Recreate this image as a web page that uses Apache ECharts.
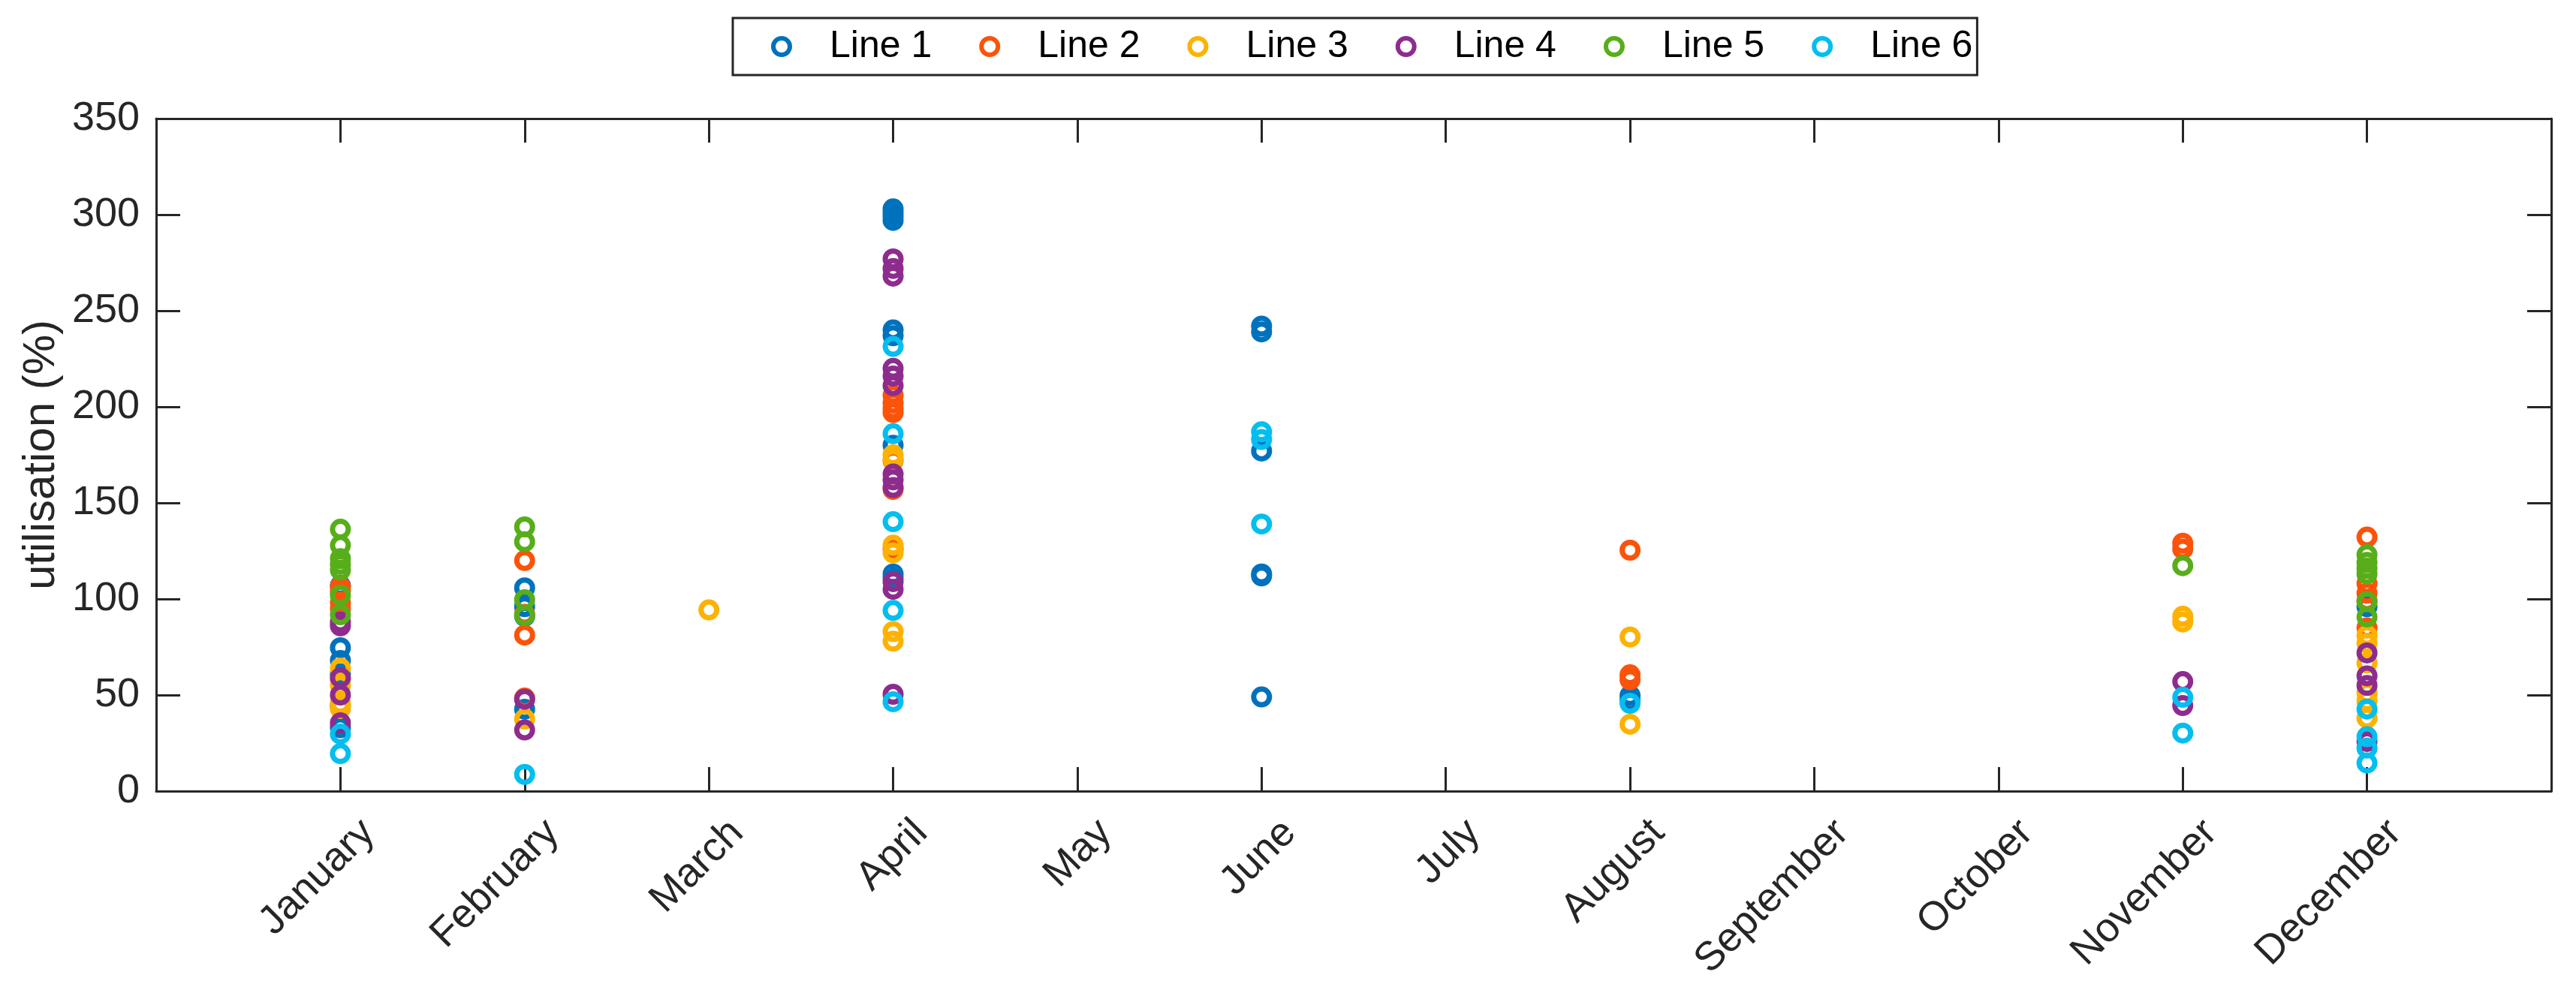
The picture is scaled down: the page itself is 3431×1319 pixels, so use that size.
<!DOCTYPE html>
<html>
<head>
<meta charset="utf-8">
<script src="https://cdn.jsdelivr.net/npm/echarts@6/dist/echarts.min.js"></script>
<style>
html,body{margin:0;padding:0;background:#fff;}
#chart{width:3431px;height:1319px;}
</style>
</head>
<body>
<div id="chart"></div>
<script>
const months = ['January','February','March','April','May','June','July','August','September','October','November','December'];
const seriesNames = ['Line 1','Line 2','Line 3','Line 4','Line 5','Line 6'];
const yTicks = [0, 50, 100, 150, 200, 250, 300, 350];

const line1 = [
  ['January',107],['January',74.6],['January',68],['January',61],['January',44.5],['January',33],
  ['February',105.8],['February',96],['February',91],['February',42.6],
  ['April',303],['April',301],['April',299],['April',297],['April',240],['April',237],['April',180],['April',113],['April',111],
  ['June',242],['June',239],['June',177],['June',113],['June',112],['June',49],
  ['August',49.7],['August',47],
  ['December',96]
];
const line2 = [
  ['January',106.4],['January',104],['January',98],['January',95],
  ['February',120],['February',92],['February',81.2],['February',48.4],
  ['April',206],['April',202],['April',199],['April',197],['April',172],['April',157],['April',126],
  ['August',125.4],['August',60.5],['August',58],
  ['November',129],['November',126],
  ['December',132.2],['December',108],['December',103],['December',99],['December',85]
];
const line3 = [
  ['January',64],['January',58],['January',55],['January',45.7],['January',43],
  ['February',37.5],
  ['March',94.3],
  ['April',175],['April',172.6],['April',128],['April',124],['April',83],['April',78],
  ['August',80.2],['August',34.8],
  ['November',91],['November',88],
  ['December',81],['December',77],['December',66.7],['December',51],['December',47],['December',38]
];
const line4 = [
  ['January',88],['January',86],['January',59],['January',50],['January',35.5],
  ['February',47.8],['February',31.8],
  ['April',277],['April',272],['April',268],['April',220],['April',216],['April',211],['April',165],['April',162],['April',158],['April',109],['April',105],['April',50.4],
  ['November',57],['November',44.5],
  ['December',71.9],['December',60],['December',55],['December',25.8]
];
const line5 = [
  ['January',136.3],['January',127.9],['January',121],['January',118],['January',115],['January',102],['January',91.8],
  ['February',137.5],['February',129.8],['February',99.6],['February',91.4],
  ['November',117.3],
  ['December',123],['December',119],['December',116],['December',113],['December',98.6],['December',90.6]
];
const line6 = [
  ['January',29.7],['January',19.5],
  ['February',8.7],
  ['April',231.4],['April',186],['April',140.2],['April',94],['April',46.5],
  ['June',187],['June',183],['June',139],
  ['August',45.7],
  ['November',48.8],['November',30.2],
  ['December',42.7],['December',28.3],['December',22.4],['December',14.6]
];

const allLines = [line1, line2, line3, line4, line5, line6];
const colors = ['#0072BD','#FC530A','#FDB202','#8E2C8E','#58AE1A','#04BEEF'];
const axisColor = '#262626';
const font = 'Liberation Sans, Arial, Helvetica, sans-serif';

const chart = echarts.init(document.getElementById('chart'), null, {renderer:'canvas'});

const baseX = {
  type:'value', min:0, max:months.length+1, interval:1,
  axisLine:{show:true, onZero:false, lineStyle:{color:axisColor, width:3}},
  axisTick:{show:true, inside:true, length:32, lineStyle:{color:axisColor, width:3}},
  splitLine:{show:false}
};
const baseY = {
  type:'value', min:yTicks[0], max:yTicks[yTicks.length-1], interval:yTicks[1]-yTicks[0],
  axisLine:{show:true, onZero:false, lineStyle:{color:axisColor, width:3}},
  axisTick:{show:true, inside:true, length:32, lineStyle:{color:axisColor, width:3}},
  splitLine:{show:false}
};

const option = {
  backgroundColor:'#fff',
  animation:false,
  color: colors,
  grid:{left:208, right:33, top:158, bottom:265, containLabel:false},
  legend:{
    show:true,
    left:976, top:24,
    orient:'horizontal',
    data: seriesNames,
    icon:'circle',
    itemWidth:22, itemHeight:22,
    itemGap:63,
    itemStyle:{borderWidth:6},
    backgroundColor:'#fff',
    borderColor:axisColor, borderWidth:3, borderRadius:0,
    padding:[13, 6, 13, 51],
    textStyle:{fontFamily:font, fontSize:50, color:'#000', padding:[0,0,0,48]}
  },
  xAxis:[
    Object.assign({}, baseX, {
      position:'bottom',
      axisLabel:{
        show:true, rotate:45, fontFamily:font, fontSize:54, color:axisColor,
        margin:10, align:'right', verticalAlign:'top', padding:[26,0,0,0],
        formatter:function(v){ return months[v-1] || ''; }
      }
    }),
    Object.assign({}, baseX, {position:'top', axisLabel:{show:false}})
  ],
  yAxis:[
    Object.assign({}, baseY, {
      position:'left',
      name:'utilisation (%)', nameLocation:'middle', nameGap:122,
      nameTextStyle:{fontFamily:font, fontSize:60, color:axisColor},
      axisLabel:{show:true, fontFamily:font, fontSize:54, color:axisColor, margin:22}
    }),
    Object.assign({}, baseY, {position:'right', axisLabel:{show:false}})
  ],
  series: allLines.map(function(arr, i){
    return {
      name: seriesNames[i],
      type:'scatter',
      xAxisIndex:0, yAxisIndex:0,
      symbol:'circle',
      symbolSize:21,
      itemStyle:{color:'rgba(0,0,0,0)', borderColor:colors[i], borderWidth:7, opacity:1},
      emphasis:{disabled:true},
      data: arr.map(function(p){ return [months.indexOf(p[0]) + 1, p[1]]; })
    };
  })
};
chart.setOption(option);
</script>
</body>
</html>
